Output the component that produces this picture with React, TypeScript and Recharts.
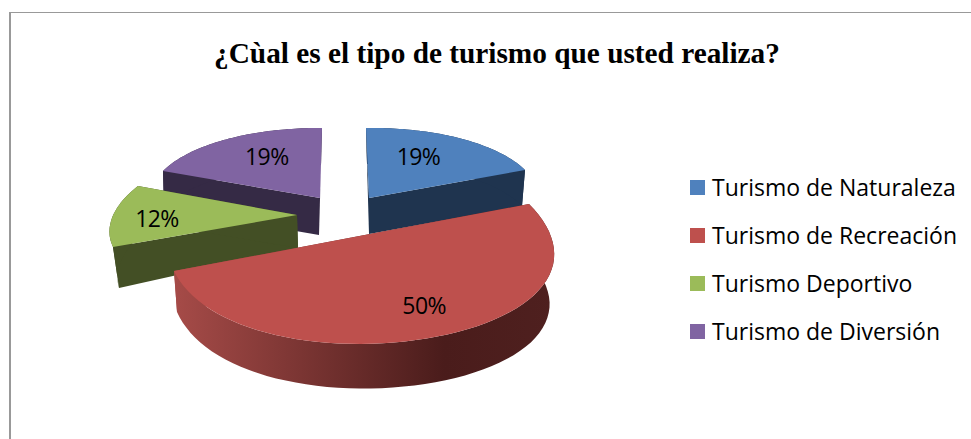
import React from "react";
import { PieChart, Pie, Legend } from "recharts";

const categories = ["Turismo de Naturaleza", "Turismo de Recreación", "Turismo Deportivo", "Turismo de Diversión"];
const shares = [19, 50, 12, 19];
const title = "¿Cùal es el tipo de turismo que usted realiza?";
const faceColors = ["#4F81BD", "#BE504D", "#9BBB59", "#8064A2"];
const wallColors = ["#1F344F", "url(#redWall)", "#434F25", "#352A45"];

const tableRows = categories.map((name, i) => ({ name, value: shares[i], fill: faceColors[i] }));

type Pt = [number, number];
type Frame = { c: Pt; a: Pt; b: Pt; warp: number; dApex: Pt; dStart: Pt; dEnd: Pt; label: Pt };

// Projection of each exploded slice's plane onto the page: the perspective look of the 3-D pie.
const frames: Frame[] = [
  { c: [369, 198], a: [-3, -70], b: [169, -2.4], warp: 0, dApex: [0, 36], dStart: [1, 36], dEnd: [-3, 36], label: [0.4, 0.66] },
  { c: [351.5, 237.5], a: [177.5, -33.5], b: [75, 101], warp: 13, dApex: [0, 42], dStart: [-6, 50], dEnd: [3, 41], label: [0.456, 0.71] },
  { c: [297, 215], a: [-184, 32], b: [-36.4, -76.4], warp: 0, dApex: [1, 33], dStart: [6, 41], dEnd: [16, 38], label: [0.46, 0.755] },
  { c: [320, 198], a: [-157, -27], b: [64.3, -64.6], warp: 0, dApex: [-1, 37], dStart: [1, 37], dEnd: [-1, 37], label: [0.585, 0.674] },
];
const layers = [[3, 0], [2], [1]];

const rad = Math.PI / 180;
const project = (f: Frame, tDeg: number, r = 1): Pt => {
  const t = tDeg * rad;
  return [
    f.c[0] + r * (f.a[0] * Math.cos(t) + f.b[0] * Math.sin(t) + f.warp * Math.sin(2 * t)),
    f.c[1] + r * (f.a[1] * Math.cos(t) + f.b[1] * Math.sin(t)),
  ];
};
const toPath = (pts: Pt[]) => "M" + pts.map((p) => `${p[0].toFixed(1)} ${p[1].toFixed(1)}`).join("L") + "Z";

const makeShape = (layer: number[]) => (props: any) => {
  const idx = categories.indexOf(props.name);
  if (!layer.includes(idx)) return <g />;
  const f = frames[idx];
  const span = Math.abs(props.startAngle - props.endAngle);
  const n = 60;
  const arc: Pt[] = [];
  const low: Pt[] = [];
  for (let i = 0; i <= n; i++) {
    const k = i / n;
    const p = project(f, span * k);
    arc.push(p);
    low.push([p[0] + f.dStart[0] * (1 - k) + f.dEnd[0] * k, p[1] + f.dStart[1] * (1 - k) + f.dEnd[1] * k]);
  }
  const apexLow: Pt = [f.c[0] + f.dApex[0], f.c[1] + f.dApex[1]];
  const wall = wallColors[idx];
  const lp = project(f, span * f.label[0], f.label[1]);
  return (
    <g>
      {idx === 1 && (
        <defs>
          <linearGradient id="redWall" gradientUnits="userSpaceOnUse" x1="174" y1="0" x2="555" y2="0">
            <stop offset="0" stopColor="#A64B48" />
            <stop offset="0.71" stopColor="#4A1C1B" />
            <stop offset="1" stopColor="#4F201F" />
          </linearGradient>
        </defs>
      )}
      <path d={toPath([f.c, arc[0], low[0], apexLow])} fill={wall} />
      <path d={toPath([f.c, arc[n], low[n], apexLow])} fill={wall} />
      <path d={toPath([...arc, ...low.slice().reverse()])} fill={wall} />
      <path d={toPath([f.c, ...arc])} fill={faceColors[idx]} />
      <text
        x={lp[0]}
        y={lp[1]}
        textAnchor="middle"
        dominantBaseline="central"
        fontFamily="'Open Sans', sans-serif"
        fontSize={23}
        letterSpacing={-0.6}
        fill="#000"
      >
        {`${props.value}%`}
      </text>
    </g>
  );
};

const legendContent = (props: any) => (
  <div>
    {(props.payload || [])
      .filter((e: any) => e.type !== "none")
      .map((e: any) => (
        <div key={e.value} style={{ display: "flex", alignItems: "center", height: 48 }}>
          <span style={{ width: 15, height: 15, background: e.color, marginRight: 7, flex: "none" }} />
          <span style={{ fontFamily: "'Open Sans', sans-serif", fontSize: 23, color: "#000", whiteSpace: "nowrap" }}>
            {e.value}
          </span>
        </div>
      ))}
  </div>
);

export default function App() {
  return (
    <div style={{ position: "absolute", left: 0, top: 0, width: 971, height: 439, overflow: "hidden", background: "#fff" }}>
      <div style={{ position: "absolute", left: 9, top: 12, width: 962, height: 1, background: "#999" }} />
      <div style={{ position: "absolute", left: 9, top: 12, width: 2, height: 427, background: "#999" }} />
      <div
        style={{
          position: "absolute",
          left: 0,
          top: 36,
          width: 994,
          textAlign: "center",
          fontFamily: "'Liberation Serif', serif",
          fontWeight: "bold",
          fontSize: 29.3,
          lineHeight: "34px",
          color: "#000",
        }}
      >
        {title}
      </div>
      <div style={{ position: "absolute", left: 0, top: 0 }}>
        <PieChart width={971} height={439} margin={{ top: 0, right: 0, bottom: 0, left: 0 }}>
          {layers.map((layer, i) => {
            const shape = makeShape(layer);
            return (
              <Pie
                key={i}
                data={tableRows}
                dataKey="value"
                nameKey="name"
                cx={350}
                cy={250}
                outerRadius={170}
                startAngle={90}
                endAngle={-270}
                stroke="none"
                legendType={i === 0 ? "square" : "none"}
                isAnimationActive={false}
                label={false}
                labelLine={false}
                shape={shape}
                activeShape={shape}
                inactiveShape={shape}
              />
            );
          })}
          <Legend
            content={legendContent}
            itemSorter={null}
            layout="vertical"
            wrapperStyle={{ position: "absolute", left: 690, top: 163, width: 281, bottom: "auto", right: "auto" }}
          />
        </PieChart>
      </div>
    </div>
  );
}
